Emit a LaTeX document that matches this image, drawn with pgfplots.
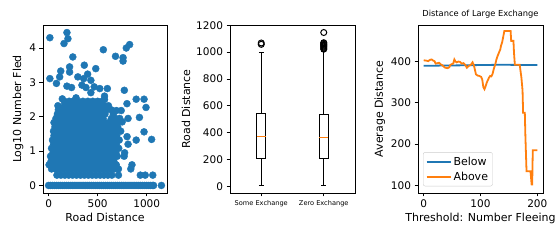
\documentclass[border=0pt]{standalone}
\usepackage{fontspec}
\setmainfont{DejaVu Sans}
\usepackage{pgfplots}
\pgfplotsset{compat=1.18}
\definecolor{mplblue}{HTML}{1F77B4}
\definecolor{mplorange}{HTML}{FF7F0E}
\pgfplotsset{
  mpl/.style={
    scale only axis,
    anchor=south west,
    height=168pt,
    tick align=outside,
    major tick length=3.5pt,
    xtick pos=left, ytick pos=left,
    tick style={black, line width=0.8pt},
    axis line style={line width=0.8pt},
    /pgf/number format/assume math mode=true,
    /pgf/number format/set thousands separator={},
    tick label style={font=\fontsize{10.5}{12}\selectfont},
    label style={font=\fontsize{11}{13}\selectfont},
    xlabel style={yshift=2pt},
    ylabel style={yshift=-1pt},
  }
}
\begin{document}
\begin{tikzpicture}
\path (0pt,0pt) rectangle (560pt,240pt);
% ---------------- scatter
\begin{axis}[mpl, at={(43pt,47pt)}, width=124pt,
  xmin=-57, xmax=1207, ymin=-0.22, ymax=4.67,
  xtick={0,500,1000}, ytick={0,1,2,3,4},
  xlabel={Road Distance}, ylabel={Log10 Number Fled}]
\addplot[only marks, mark=*, mark size=3.5pt, color=mplblue, mark options={draw=none, fill=mplblue}] coordinates {
(0,0)(20,0)(40,0)(60,0)(80,0)(100,0)(120,0)(140,0)(160,0)(180,0)(200,0)(220,0)(240,0)(260,0)(280,0)(300,0)(320,0)(340,0)(360,0)(380,0)(400,0)(420,0)(440,0)(460,0)(480,0)(500,0)(520,0)(540,0)(560,0)(580,0)(600,0)(620,0)(640,0)(660,0)(680,0)(700,0)(720,0)(740,0)(760,0)(780,0)(800,0)(820,0)(840,0)(860,0)(880,0)(900,0)(920,0)(940,0)(960,0)(980,0)(1000,0)(1020,0)(1040,0)(1060,0)(1070,0)(1150,0)
(85,0.30)(125,0.30)(165,0.30)(205,0.30)(245,0.30)(285,0.30)(325,0.30)(365,0.30)(405,0.30)(445,0.30)(485,0.30)(525,0.30)(565,0.30)(605,0.30)(645,0.30)(712,0.30)(935,0.30)(985,0.30)(1062,0.30)
(30,0.48)(70,0.48)(110,0.48)(150,0.48)(190,0.48)(230,0.48)(270,0.48)(310,0.48)(350,0.48)(390,0.48)(430,0.48)(470,0.48)(510,0.48)(550,0.48)(590,0.48)(630,0.48)(668,0.48)(712,0.48)(838,0.48)
(5,0.60)(45,0.60)(85,0.60)(125,0.60)(165,0.60)(205,0.60)(245,0.60)(285,0.60)(325,0.60)(365,0.60)(405,0.60)(445,0.60)(485,0.60)(525,0.60)(565,0.60)(605,0.60)(645,0.60)(690,0.60)(850,0.60)
(25,0.70)(65,0.70)(105,0.70)(145,0.70)(185,0.70)(225,0.70)(265,0.70)(305,0.70)(345,0.70)(385,0.70)(425,0.70)(465,0.70)(505,0.70)(545,0.70)(585,0.70)(625,0.70)(665,0.70)
(20,0.85)(60,0.85)(100,0.85)(140,0.85)(180,0.85)(220,0.85)(260,0.85)(300,0.85)(340,0.85)(380,0.85)(420,0.85)(460,0.85)(500,0.85)(540,0.85)(580,0.85)(620,0.85)(660,0.85)(700,0.85)(770,0.85)
(45,0.95)(85,0.95)(125,0.95)(165,0.95)(205,0.95)(245,0.95)(285,0.95)(325,0.95)(365,0.95)(405,0.95)(445,0.95)(485,0.95)(525,0.95)(565,0.95)(605,0.95)(645,0.95)(685,0.95)(775,0.95)
(30,1.08)(70,1.08)(110,1.08)(150,1.08)(190,1.08)(230,1.08)(270,1.08)(310,1.08)(350,1.08)(390,1.08)(430,1.08)(470,1.08)(510,1.08)(550,1.08)(590,1.08)(630,1.08)(670,1.08)(715,1.08)
(50,1.20)(90,1.20)(130,1.20)(170,1.20)(210,1.20)(250,1.20)(290,1.20)(330,1.20)(370,1.20)(410,1.20)(450,1.20)(490,1.20)(530,1.20)(570,1.20)(610,1.20)(650,1.20)(690,1.20)(810,1.20)
(40,1.32)(80,1.32)(120,1.32)(160,1.32)(200,1.32)(240,1.32)(280,1.32)(320,1.32)(360,1.32)(400,1.32)(440,1.32)(480,1.32)(520,1.32)(560,1.32)(600,1.32)(640,1.32)(680,1.32)(720,1.32)(893,1.32)(1050,1.34)
(55,1.45)(95,1.45)(135,1.45)(175,1.45)(215,1.45)(255,1.45)(295,1.45)(335,1.45)(375,1.45)(415,1.45)(455,1.45)(495,1.45)(535,1.45)(575,1.45)(615,1.45)(655,1.45)(695,1.45)(800,1.42)
(50,1.58)(90,1.58)(130,1.58)(170,1.58)(210,1.58)(250,1.58)(290,1.58)(330,1.58)(370,1.58)(410,1.58)(450,1.58)(490,1.58)(530,1.58)(570,1.58)(610,1.58)(650,1.58)(690,1.58)(735,1.58)(973,1.56)
(65,1.70)(105,1.70)(145,1.70)(185,1.70)(225,1.70)(265,1.70)(305,1.70)(345,1.70)(385,1.70)(425,1.70)(465,1.70)(505,1.70)(545,1.70)(585,1.70)(625,1.70)(665,1.70)(705,1.70)
(55,1.83)(95,1.83)(135,1.83)(175,1.83)(215,1.83)(255,1.83)(295,1.83)(335,1.83)(375,1.83)(415,1.83)(455,1.83)(495,1.83)(535,1.83)(575,1.83)(615,1.83)(655,1.83)(700,1.83)(750,1.85)
(75,1.95)(115,1.95)(155,1.95)(195,1.95)(235,1.95)(275,1.95)(315,1.95)(355,1.95)(395,1.95)(435,1.95)(475,1.95)(515,1.95)(555,1.95)(640,1.95)(680,1.95)(725,1.95)(810,1.95)(926,1.98)
(90,2.08)(130,2.08)(170,2.08)(210,2.08)(250,2.08)(290,2.08)(330,2.08)(370,2.08)(410,2.08)(450,2.08)(490,2.08)(530,2.08)(575,2.08)(660,2.08)
(100,2.20)(140,2.20)(180,2.20)(220,2.20)(260,2.20)(300,2.20)(340,2.20)(380,2.20)(420,2.20)(460,2.20)(500,2.20)(540,2.20)(590,2.20)(640,2.20)(690,2.18)(740,2.18)
(95,2.32)(160,2.32)(200,2.32)(240,2.32)(280,2.32)(320,2.32)(360,2.32)(400,2.32)(440,2.32)(480,2.32)(520,2.32)(560,2.32)(610,2.32)(799,2.38)
(160,2.45)(210,2.45)(250,2.45)(300,2.45)(350,2.45)(400,2.45)(450,2.45)(500,2.45)(545,2.45)(893,2.51)(973,2.51)(993,2.27)
(13,3.11)(80,2.97)(113,3.16)(124,3.33)(214,3.45)(214,3.30)(364,3.50)(481,3.40)(298,3.16)(358,3.11)(398,3.24)(431,3.06)(381,2.85)(340,2.92)(234,2.85)(187,2.89)(465,2.87)(522,2.82)(599,2.82)(570,2.60)(570,2.50)(431,2.70)(772,2.77)(140,2.52)(280,2.55)
(13,4.30)(187,4.45)(197,4.27)(157,4.13)(558,3.95)(826,4.10)(792,4.00)(247,3.74)(682,3.76)(759,3.72)(759,3.62)
};
\end{axis}
% ---------------- boxplot (drawn from quartile values)
\begin{axis}[mpl, at={(230pt,47pt)}, width=125pt,
  xmin=0.5, xmax=2.5, ymin=-49, ymax=1202,
  xtick={1,2}, xticklabels={Some Exchange, Zero Exchange},
  xticklabel style={font=\fontsize{6.6}{8}\selectfont},
  ytick={0,200,400,600,800,1000,1200},
  ylabel={Road Distance}]
% Some Exchange: whiskers 10/995, quartiles 208/545, median 371
\addplot[black, line width=1pt] coordinates {(0.925,208)(1.075,208)(1.075,545)(0.925,545)} -- cycle;
\addplot[black, line width=1pt] coordinates {(1,208)(1,10)};
\addplot[black, line width=1pt] coordinates {(1,545)(1,995)};
\addplot[black, line width=1pt] coordinates {(0.9625,10)(1.0375,10)};
\addplot[black, line width=1pt] coordinates {(0.9625,995)(1.0375,995)};
\addplot[mplorange, line width=1pt] coordinates {(0.925,371)(1.075,371)};
\addplot[only marks, mark=o, mark size=3pt, mark options={line width=1pt, black}] coordinates {(1,1058)(1,1068)};
% Zero Exchange: whiskers 10/1005, quartiles 208/533, median 361
\addplot[black, line width=1pt] coordinates {(1.925,208)(2.075,208)(2.075,533)(1.925,533)} -- cycle;
\addplot[black, line width=1pt] coordinates {(2,208)(2,10)};
\addplot[black, line width=1pt] coordinates {(2,533)(2,1005)};
\addplot[black, line width=1pt] coordinates {(1.9625,10)(2.0375,10)};
\addplot[black, line width=1pt] coordinates {(1.9625,1005)(2.0375,1005)};
\addplot[mplorange, line width=1pt] coordinates {(1.925,361)(2.075,361)};
\addplot[only marks, mark=o, mark size=3pt, mark options={line width=1pt, black}] coordinates {(2,1022)(2,1030)(2,1038)(2,1045)(2,1052)(2,1058)(2,1065)(2,1070)(2,1146)};
\end{axis}
% ---------------- lines
\begin{axis}[mpl, at={(418pt,47pt)}, width=125pt,
  xmin=-10, xmax=210, ymin=81.5, ymax=488.5,
  xtick={0,100,200}, ytick={100,200,300,400},
  xlabel={Threshold: Number Fleeing}, ylabel={Average Distance},
  title={Distance of Large Exchange},
  title style={font=\fontsize{8.3}{10}\selectfont, yshift=-3pt},
  legend cell align=left,
  legend style={at={(0.04,0.04)}, anchor=south west, draw=black!20,
    rounded corners=2pt, font=\fontsize{11}{13}\selectfont,
    inner sep=2.5pt, row sep=1pt},
  legend image code/.code={\draw[mark repeat=2,mark phase=2,#1] plot coordinates {(0pt,0pt)(12pt,0pt)(24pt,0pt)};}]
\addplot[mplblue, line width=1.8pt] coordinates {
(0,390)(20,390)(50,390.5)(80,391)(100,391.5)(130,392)(150,392)(175,391.5)(200,391.5)};
\addlegendentry{Below}
\addplot[mplorange, line width=1.8pt] coordinates {
(0,403)(5,402)(8,401)(11,404)(14,405)(17,402)(19,401)(21,395)(24,396)(27,397)(30,393)(33,391)(36,387)(38,385)(42,384)(45,386)(47,392)(50,394)(52,395)(54,405)(56,400)(58,398)(61,400)(64,399)(67,395)(70,396)(73,392)(76,385)(79,389)(83,392)(86,398)(88,392)(89,387)(91,375)(92,369)(95,366)(98,365)(101,363)(103,357)(105,338)(107,333)(109,340)(111,349)(113,355)(115,361)(117,365)(119,364)(121,369)(123,380)(124,385)(126,393)(128,405)(130,413)(132,420)(135,430)(136,438)(138,446)(140,460)(142,474)(145,474)(150,474)(153,474)(154,450)(158,450)(159,420)(160.5,392)(169,392)(172,361)(174,330)(175,276)(178,276)(179,220)(181,134)(188,134)(190,102)(191,102)(192,185)(200,185)};
\addlegendentry{Above}
\end{axis}
\end{tikzpicture}
\end{document}
